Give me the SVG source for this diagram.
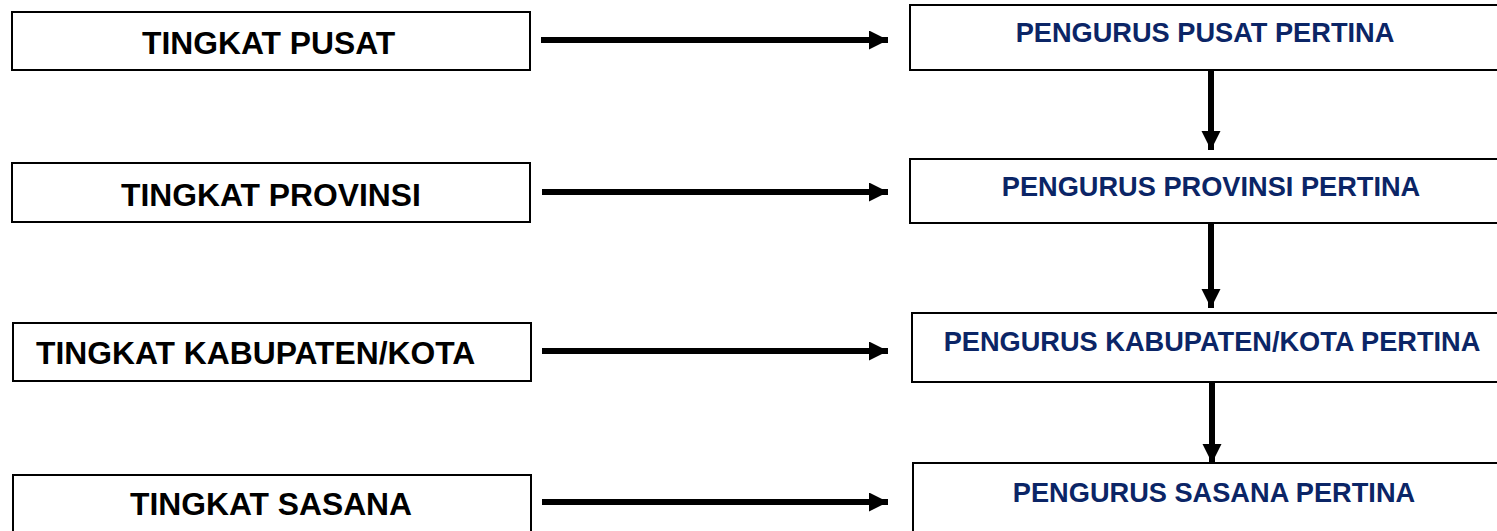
<svg xmlns="http://www.w3.org/2000/svg" width="1497" height="531" viewBox="0 0 1497 531">
  <style>
    .box { fill: #ffffff; stroke: #000000; stroke-width: 2; }
    .lvl { font-family: "Liberation Sans", Arial, sans-serif; font-weight: bold; font-size: 31.8px; fill: #000000; }
    .org { font-family: "Liberation Sans", Arial, sans-serif; font-weight: bold; font-size: 27.2px; fill: #0b2566; text-anchor: middle; }
    .link { stroke: #000000; stroke-width: 6; fill: none; marker-end: url(#head); }
  </style>
  <defs>
    <marker id="head" markerUnits="userSpaceOnUse" markerWidth="22" markerHeight="22" refX="19" refY="9.5" orient="auto">
      <path d="M0,0 L19,9.5 L0,19 Z" fill="#000000"/>
    </marker>
  </defs>
  <rect width="1497" height="531" fill="#ffffff"/>

  <!-- level labels (left column) -->
  <g id="tingkat-pusat">
    <rect class="box" x="12" y="12" width="518" height="58"/>
    <text class="lvl" x="142" y="54">TINGKAT PUSAT</text>
  </g>
  <g id="tingkat-provinsi">
    <rect class="box" x="12" y="163" width="518" height="59"/>
    <text class="lvl" x="121" y="206">TINGKAT PROVINSI</text>
  </g>
  <g id="tingkat-kabupaten">
    <rect class="box" x="13" y="323" width="518" height="58"/>
    <text class="lvl" x="36" y="364">TINGKAT KABUPATEN/KOTA</text>
  </g>
  <g id="tingkat-sasana">
    <rect class="box" x="13" y="475" width="518" height="70"/>
    <text class="lvl" x="130" y="515">TINGKAT SASANA</text>
  </g>

  <!-- board boxes (right column, running off the right edge) -->
  <g id="pengurus-pusat">
    <rect class="box" x="910" y="5" width="600" height="65"/>
    <text class="org" x="1205" y="42">PENGURUS PUSAT PERTINA</text>
  </g>
  <g id="pengurus-provinsi">
    <rect class="box" x="910" y="159" width="600" height="64"/>
    <text class="org" x="1211" y="196">PENGURUS PROVINSI PERTINA</text>
  </g>
  <g id="pengurus-kabupaten">
    <rect class="box" x="912" y="313" width="600" height="69"/>
    <text class="org" x="1212" y="351">PENGURUS KABUPATEN/KOTA PERTINA</text>
  </g>
  <g id="pengurus-sasana">
    <rect class="box" x="913" y="463" width="600" height="80"/>
    <text class="org" x="1214" y="502">PENGURUS SASANA PERTINA</text>
  </g>

  <!-- connectors -->
  <g id="connectors">
    <line class="link" x1="541" y1="40" x2="888" y2="40"/>
    <line class="link" x1="542" y1="192" x2="888" y2="192"/>
    <line class="link" x1="542" y1="351" x2="888" y2="351"/>
    <line class="link" x1="542" y1="502" x2="888" y2="502"/>
    <line class="link" x1="1211" y1="71" x2="1211" y2="150"/>
    <line class="link" x1="1211" y1="224" x2="1211" y2="308"/>
    <line class="link" x1="1212" y1="383" x2="1212" y2="463"/>
  </g>
</svg>
